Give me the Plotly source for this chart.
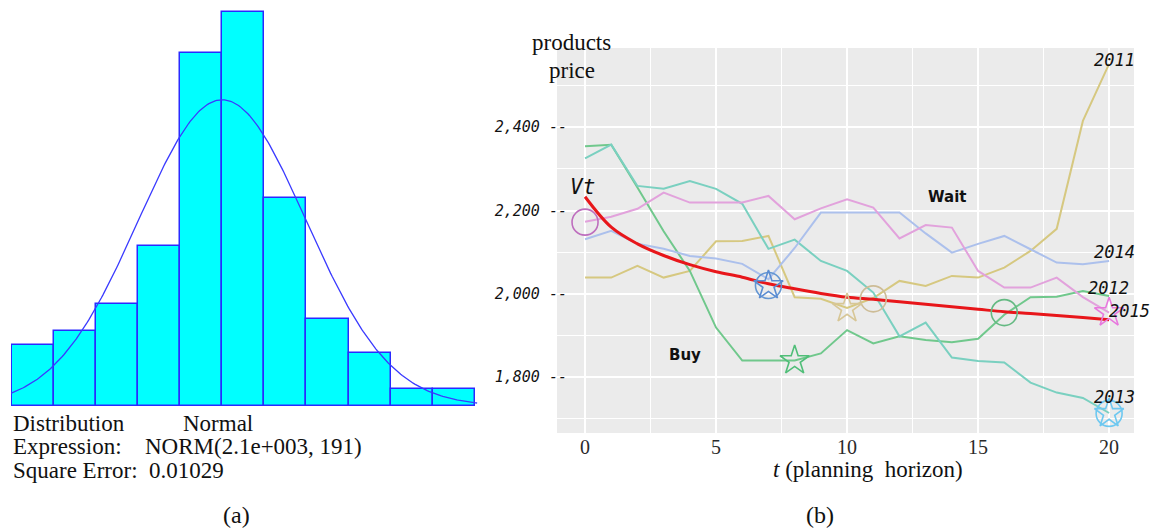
import numpy as np
import plotly.graph_objects as go

W, H = 1157, 531

# ---------------- Panel (a): histogram with fitted normal ----------------
bin_centers = [1668, 1764, 1860, 1956, 2052, 2148, 2244, 2340, 2436, 2532, 2628]
rel_freq = [0.040, 0.049, 0.067, 0.105, 0.231, 0.258, 0.136, 0.057, 0.035, 0.011, 0.011]
bin_width = 96
fit_mean = 2100
fit_sd = 191

# ---------------- Panel (b): price paths ----------------
t = list(range(21))
price_2011 = [2039, 2039, 2067, 2039, 2055, 2126, 2127, 2139, 1992, 1988, 1966,
              1990, 2031, 2019, 2043, 2039, 2063, 2103, 2156, 2415, 2552]
price_2012 = [2354, 2358, 2255, 2150, 2055, 1919, 1840, 1840, 1840, 1857, 1913,
              1881, 1898, 1889, 1884, 1892, 1950, 1992, 1993, 2007, 1995]
price_2013 = [2325, 2358, 2259, 2252, 2271, 2252, 2216, 2108, 2130, 2079, 2055,
              2003, 1898, 1931, 1847, 1839, 1835, 1787, 1763, 1750, 1714]
price_2014 = [2131, 2151, 2120, 2108, 2091, 2085, 2072, 2035, 2110, 2195, 2195,
              2195, 2195, 2145, 2099, 2120, 2139, 2107, 2075, 2071, 2079]
price_2015 = [2173, 2185, 2204, 2243, 2219, 2219, 2219, 2235, 2179, 2205, 2227,
              2207, 2133, 2165, 2159, 2055, 2015, 2015, 2039, 1992, 1955]
vt = [2233, 2160, 2120, 2092, 2070, 2053, 2040, 2024, 2012, 2001, 1992,
      1987, 1981, 1975, 1969, 1963, 1957, 1953, 1948, 1943, 1938]

series_names = ["2011", "2012", "2013", "2014", "2015"]
series_colors = ["rgb(214,200,128)", "rgb(112,200,140)", "rgb(122,208,192)",
                 "rgb(172,192,236)", "rgb(226,162,220)"]

# decision markers
circle_t = [0, 7, 11, 16, 20]
circle_v = [2172, 2020, 1988, 1955, 1713]
circle_colors = ["rgb(190,110,190)", "rgb(100,150,210)", "rgb(205,188,150)",
                 "rgb(100,185,130)", "rgb(110,200,240)"]
star_t = [7, 8, 10, 20, 20]
star_v = [2020, 1840, 1965, 1955, 1713]
star_colors = ["rgb(90,140,210)", "rgb(80,190,120)", "rgb(215,198,150)",
               "rgb(232,120,222)", "rgb(110,200,240)"]

y_ticks = [1800, 2000, 2200, 2400]
y_ticktext = ["1,800", "2,000", "2,200", "2,400"]
y_minor = [1700, 1900, 2100, 2300, 2500]
x_ticks = [0, 5, 10, 15, 20]
x_minor = [2.5, 7.5, 12.5, 17.5]


def px(x):
    return x / W


def py(y):
    return 1 - y / H


fig = go.Figure()

# histogram bars
fig.add_trace(go.Bar(
    x=bin_centers, y=rel_freq, width=bin_width,
    marker=dict(color="#00ffff", line=dict(color="#2a2aff", width=1.5)),
    xaxis="x", yaxis="y", showlegend=False, cliponaxis=False))

# fitted normal curve (from the stated NORM parameters)
xs = np.linspace(1618, 2681, 300)
ys = bin_width / (fit_sd * np.sqrt(2 * np.pi)) * np.exp(-0.5 * ((xs - fit_mean) / fit_sd) ** 2)
fig.add_trace(go.Scatter(x=xs, y=ys, mode="lines",
                         line=dict(color="#3a3aff", width=1.3),
                         xaxis="x", yaxis="y", showlegend=False, cliponaxis=False))

# price lines
all_series = [price_2011, price_2012, price_2013, price_2014, price_2015]
for name, vals, col in zip(series_names, all_series, series_colors):
    fig.add_trace(go.Scatter(x=t, y=vals, mode="lines", name=name,
                             line=dict(color=col, width=2),
                             xaxis="x2", yaxis="y2", showlegend=False))

# Vt curve
fig.add_trace(go.Scatter(x=t, y=vt, mode="lines", line=dict(color="#e8161a", width=3, shape="spline"),
                         xaxis="x2", yaxis="y2", showlegend=False))

# markers
fig.add_trace(go.Scatter(x=circle_t, y=circle_v, mode="markers",
                         marker=dict(symbol="circle-open", size=26, color=circle_colors,
                                     line=dict(width=1.6)),
                         xaxis="x2", yaxis="y2", showlegend=False, cliponaxis=False))
fig.add_trace(go.Scatter(x=star_t, y=star_v, mode="markers",
                         marker=dict(symbol="star-open", size=22, color=star_colors,
                                     line=dict(width=1.6)),
                         xaxis="x2", yaxis="y2", showlegend=False, cliponaxis=False))

# grey panel background for (b)
fig.add_shape(type="rect", xref="x2 domain", yref="y2 domain", x0=0, x1=1, y0=0, y1=1,
              fillcolor="#ebebeb", line=dict(width=0), layer="below")

serif = "Liberation Serif"
mono = "DejaVu Sans Mono"

fig.update_layout(
    width=W, height=H,
    margin=dict(l=0, r=0, t=0, b=0),
    paper_bgcolor="white", plot_bgcolor="rgba(0,0,0,0)",
    bargap=0,
    xaxis=dict(domain=[px(11), px(478)], range=[1618.4, 2683], visible=False),
    yaxis=dict(domain=[py(406), py(5)], range=[0, 0.258 * 401 / 394], visible=False),
    xaxis2=dict(domain=[px(557), px(1134)], range=[-1.07, 20.95], anchor="y2",
                tickvals=x_ticks, ticktext=[str(v) for v in x_ticks],
                tickfont=dict(family=serif, size=20, color="#2a2a2a"),
                showgrid=True, gridcolor="white", gridwidth=1.8,
                minor=dict(tickvals=x_minor, showgrid=True, gridcolor="white", gridwidth=1.1),
                zeroline=False, showline=False, ticks=""),
    yaxis2=dict(domain=[py(433), py(48)], range=[1666, 2590], anchor="free", position=px(567),
                tickvals=y_ticks, ticktext=["<i>" + s + " --</i>" for s in y_ticktext],
                tickfont=dict(family=mono, size=15, color="#111"),
                showgrid=True, gridcolor="white", gridwidth=1.8,
                minor=dict(tickvals=y_minor, showgrid=True, gridcolor="white", gridwidth=1.1),
                zeroline=False, showline=False, ticks=""),
)

ann = []


def add_paper(text, x, y, size, family=serif, xanchor="left", color="#111"):
    ann.append(dict(text=text, x=px(x), y=py(y), xref="paper", yref="paper",
                    xanchor=xanchor, yanchor="middle", showarrow=False,
                    font=dict(family=family, size=size, color=color)))


# panel (a) texts
add_paper("Distribution", 11, 423, 23)
add_paper("Normal", 181, 423, 23)
add_paper("Expression:", 11, 446, 23)
add_paper("NORM(2.1e+003, 191)", 143, 446, 23)
add_paper("Square Error:", 11, 470, 23)
add_paper("0.01029", 147, 470, 23)
add_paper("(a)", 236, 515, 24, xanchor="center")
add_paper("(b)", 820, 515, 24, xanchor="center")

# panel (b) axis titles
add_paper("products", 571, 43, 23, xanchor="center")
add_paper("price", 572, 70, 23, xanchor="center")
add_paper("<i>t</i> (planning  horizon)", 868, 469, 23, xanchor="center")


def add_data(text, x, y, size, family=mono, bold=False, italic=True):
    s = text
    if italic:
        s = "<i>" + s + "</i>"
    if bold:
        s = "<b>" + s + "</b>"
    ann.append(dict(text=s, x=x, y=y, xref="x2", yref="y2", xanchor="center", yanchor="middle",
                    showarrow=False, font=dict(family=family, size=size, color="#111")))


add_data("2011", 20.19, 2561, 17)
add_data("2014", 20.19, 2100, 17)
add_data("2012", 19.96, 2014, 17)
add_data("2015", 20.76, 1958, 17)
add_data("2013", 20.19, 1752, 17)
add_data("Vt", -0.11, 2256, 21)
add_data("Wait", 13.82, 2232, 15, family="DejaVu Sans", bold=True, italic=False)
add_data("Buy", 3.82, 1853, 15, family="DejaVu Sans", bold=True, italic=False)

fig.update_layout(annotations=ann)

fig.write_html("out.html", config={"displayModeBar": False},
               post_script="document.body.style.margin='0px';")
